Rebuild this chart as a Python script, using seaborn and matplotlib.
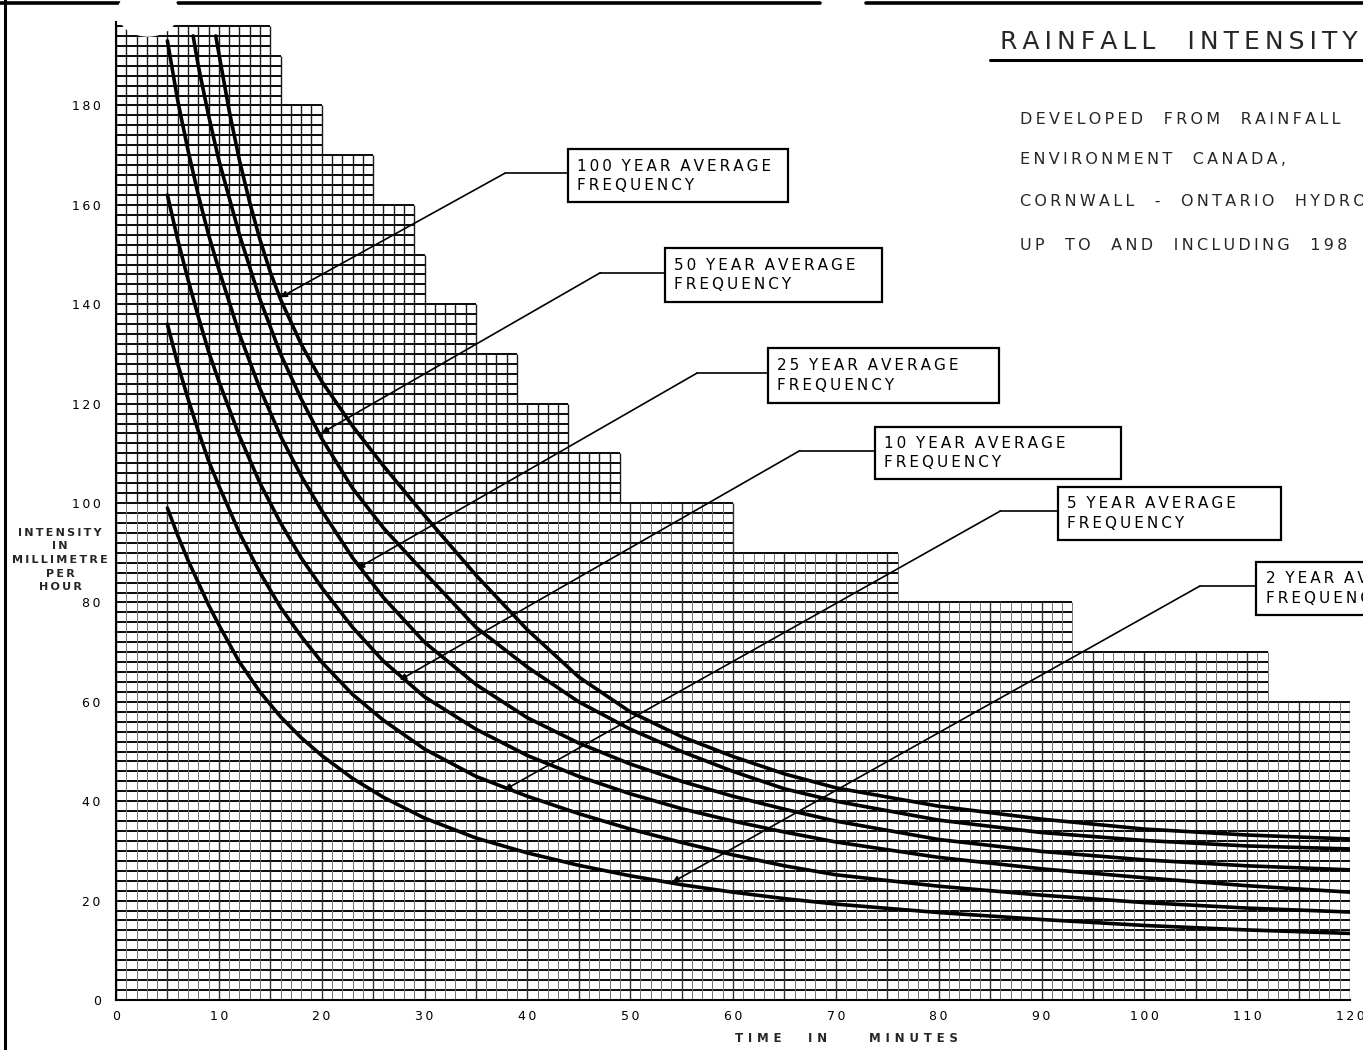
import numpy as np
import pandas as pd
import matplotlib.pyplot as plt
import seaborn as sns
from matplotlib.lines import Line2D
from matplotlib.patches import Rectangle, Ellipse

sns.set_theme(style="white")
plt.rcParams['font.family'] = ['DejaVu Sans']

# durations (minutes) and intensities (mm/h)
minutes = [5, 6, 7, 8, 9, 10, 12, 14, 16, 18, 20, 23, 26, 30, 35, 40, 45, 50, 55, 60, 65, 70, 80, 90, 100, 110, 120]
i_2yr = [99, 93.5, 88.5, 84, 79.5, 75.5, 68, 62, 57, 52.8, 49.2, 44.6, 40.8, 36.6, 32.6, 29.6,
         27.1, 25, 23.2, 21.7, 20.4, 19.3, 17.6, 16.2, 15, 14.1, 13.4]
i_5yr = [136, 128, 121, 114.5, 108.5, 103.5, 94, 86, 79, 73.2, 68, 61.5, 56.3, 50.5, 45, 41,
         37.5, 34.4, 31.7, 29.2, 27, 25.2, 22.9, 21.1, 19.6, 18.5, 17.7]
i_10yr = [162, 153, 145, 137.5, 130.5, 124.5, 113.5, 104, 96, 89, 83, 75, 68.2, 61, 54.5, 49.2,
          45, 41.5, 38.5, 36, 33.8, 31.8, 28.7, 26.4, 24.6, 23, 21.7]
i_25yr = [193, 181, 171, 162, 154, 147, 134, 123, 113.5, 105.5, 98.5, 89, 81, 72, 63.5, 56.8,
          51.7, 47.5, 44, 41, 38.4, 36, 32.3, 29.9, 28.2, 27, 26.2]
t_50yr = [7.5, 8, 9, 10, 12, 14, 16, 18, 20, 23, 26, 30, 35, 40, 45, 50, 55, 60, 65, 70, 80, 90, 100, 110, 120]
i_50yr = [194, 188, 178, 169, 154, 141, 130, 121, 113, 103, 95, 86, 75, 67, 60, 54.5, 50, 46,
          42.5, 40, 36.2, 33.7, 32.1, 31, 30.4]
t_100yr = [9.7, 10, 11, 12, 13, 14, 15, 16, 18, 20, 23, 26, 30, 35, 40, 45, 50, 55, 60, 65, 70, 80, 90, 100, 110, 120]
i_100yr = [194, 190.5, 179, 169, 160.5, 153, 146.5, 141, 132, 124.5, 115.5, 107.5, 97.5, 85.5, 74.5,
           65, 58, 53, 49, 45.5, 42.7, 39, 36.4, 34.4, 33.2, 32.4]

# stepped outline of the printed grid: band upper limit and its right edge
band_top = [60, 70, 80, 90, 100, 110, 120, 130, 140, 150, 160, 170, 180, 190, 196]
band_right = [120, 112, 93, 76, 60, 49, 44, 39, 35, 30, 29, 25, 20, 16, 15]

# labels: return period, box (x0, x1, y0, y1), leader knee x, leader end (x, y)
labels = ["100", "50", "25", "10", "5", "2"]
box_x0 = [43.97, 53.4, 63.4, 73.8, 91.6, 110.9]
box_x1 = [65.3, 74.5, 85.9, 97.7, 113.3, 135]
box_y0 = [160.5, 140.4, 120.1, 104.8, 92.6, 77.5]
box_y1 = [171.2, 151.3, 131.2, 115.3, 103.2, 88.1]
knee_x = [37.8, 47.1, 56.5, 66.5, 86, 105.4]
end_x = [16, 20, 23.5, 27.6, 37.8, 54.1]
end_y = [141.4, 114.1, 86.9, 64.4, 42.3, 23.7]


def track(s, gap="\u2009"):
    # loose letter spacing like stencil lettering
    return gap.join(s)


frames = []
for name, t, i in [("2", minutes, i_2yr), ("5", minutes, i_5yr), ("10", minutes, i_10yr),
                   ("25", minutes, i_25yr), ("50", t_50yr, i_50yr), ("100", t_100yr, i_100yr)]:
    frames.append(pd.DataFrame({"minutes": t, "intensity": i, "period": name}))
df = pd.concat(frames, ignore_index=True)

fig = plt.figure(figsize=(13.63, 10.5), dpi=100)
ax = fig.add_axes([116 / 1363, 50 / 1050, 1234 / 1363, 978 / 1050])
ax.set_xlim(0, 120)
ax.set_ylim(0, 196.8)


def right_edge(y):
    for top, r in zip(band_top, band_right):
        if y <= top:
            return r
    return band_right[-1]


def grid_top(x):
    return max(top for top, r in zip(band_top, band_right) if r >= x)


hy = np.arange(0, 197, 2)
ax.hlines(hy, 0, [right_edge(y) for y in hy], color="black", lw=1.35, zorder=1)
vx = np.arange(0, 121, 1)
tops = [grid_top(x) for x in vx]
# upper part of the sheet printed darker than the lower part
lower_top = [min(t, 100) for t in tops]
ax.vlines([x for x in vx if x % 5], 0, [lower_top[x] for x in vx if x % 5], color="0.45", lw=0.7, zorder=1)
ax.vlines([x for x in vx if x % 5 == 0], 0, [lower_top[x] for x in vx if x % 5 == 0], color="0.2", lw=1.0, zorder=1)
up = [x for x in vx if tops[x] > 100]
ax.vlines(up, 100, [tops[x] for x in up], color="0.1", lw=1.0, zorder=1)

sns.lineplot(data=df, x="minutes", y="intensity", hue="period", palette=["black"] * 6,
             lw=2.6, legend=False, estimator=None, ax=ax, zorder=3,
             solid_joinstyle="round", solid_capstyle="round")

for k, lab in enumerate(labels):
    ax.add_patch(Rectangle((box_x0[k], box_y0[k]), box_x1[k] - box_x0[k], box_y1[k] - box_y0[k],
                           facecolor="white", edgecolor="black", lw=1.6, clip_on=False, zorder=4))
    ax.text(box_x0[k] + 0.9, (box_y0[k] + box_y1[k]) / 2,
            track(lab) + "  " + track("YEAR") + "  " + track("AVERAGE") + "\n" + track("FREQUENCY"),
            ha="left", va="center", fontsize=11, linespacing=1.35, color="black", clip_on=False, zorder=5)
    ly = (box_y0[k] + box_y1[k]) / 2 + 0.5
    ax.plot([box_x0[k], knee_x[k]], [ly, ly], color="black", lw=1.2, zorder=4)
    ax.annotate("", xy=(end_x[k], end_y[k]), xytext=(knee_x[k], ly),
                arrowprops=dict(arrowstyle="-|>", color="black", lw=1.2, mutation_scale=9,
                                shrinkA=0, shrinkB=0), zorder=4)

for side in ["top", "right"]:
    ax.spines[side].set_visible(False)
for side in ["left", "bottom"]:
    ax.spines[side].set_color("black")
    ax.spines[side].set_linewidth(1.5)

yt = list(range(0, 181, 20))
ax.set_yticks(yt)
ax.set_yticklabels([track(str(v)) for v in yt])
xt = list(range(0, 121, 10))
ax.set_xticks(xt)
ax.set_xticklabels([track(str(v)) for v in xt])
ax.tick_params(axis="y", direction="out", length=10, width=1.3, colors="black", labelsize=9, pad=1)
ax.tick_params(axis="x", direction="inout", length=6, width=1.2, colors="black", labelsize=9, pad=4)
ax.set_xlabel("")
ax.set_ylabel("")

# axis titles
for word, xc in [("TIME", 758), ("IN", 818), ("MINUTES", 913)]:
    fig.text(xc / 1363, 1 - 1039 / 1050, track(word, "\u2009\u2009"), ha="center", va="center",
             fontsize=8.5, fontweight="bold")
fig.text(60 / 1363, 1 - 560 / 1050, "\n".join(track(w) for w in ["INTENSITY", "IN", "MILLIMETRE", "PER", "HOUR"]),
         ha="center", va="center", fontsize=8, fontweight="bold", linespacing=1.45)

# title block on the right (cut off by the sheet edge)
fig.text(1000 / 1363, 1 - 42 / 1050, track("RAINFALL") + "    " + track("INTENSITY"),
         ha="left", va="center", fontsize=18)
note = ["DEVELOPED FROM RAINFALL", "ENVIRONMENT CANADA,", "CORNWALL - ONTARIO HYDRO",
        "UP TO AND INCLUDING 198"]
for k, line in enumerate(note):
    fig.text(1020 / 1363, 1 - [120, 160, 202, 245][k] / 1050, "    ".join(track(w) for w in line.split(" ")),
             ha="left", va="center", fontsize=11.5)

# drawing sheet frame
fig.add_artist(Line2D([990 / 1363, 1], [1 - 60 / 1050] * 2, color="black", lw=2.2))
fig.add_artist(Line2D([5 / 1363, 5 / 1363], [0, 1], color="black", lw=2.2))
for x0, x1 in [(0, 120), (178, 820), (866, 1363)]:
    fig.add_artist(Line2D([x0 / 1363, x1 / 1363], [1 - 3 / 1050] * 2, color="black", lw=2.6))
fig.add_artist(Ellipse((148 / 1363, 1 - 12 / 1050), 60 / 1363, 48 / 1050, transform=fig.transFigure,
                       color="white", zorder=10))

fig.savefig("out.png", dpi=100, facecolor="white")
